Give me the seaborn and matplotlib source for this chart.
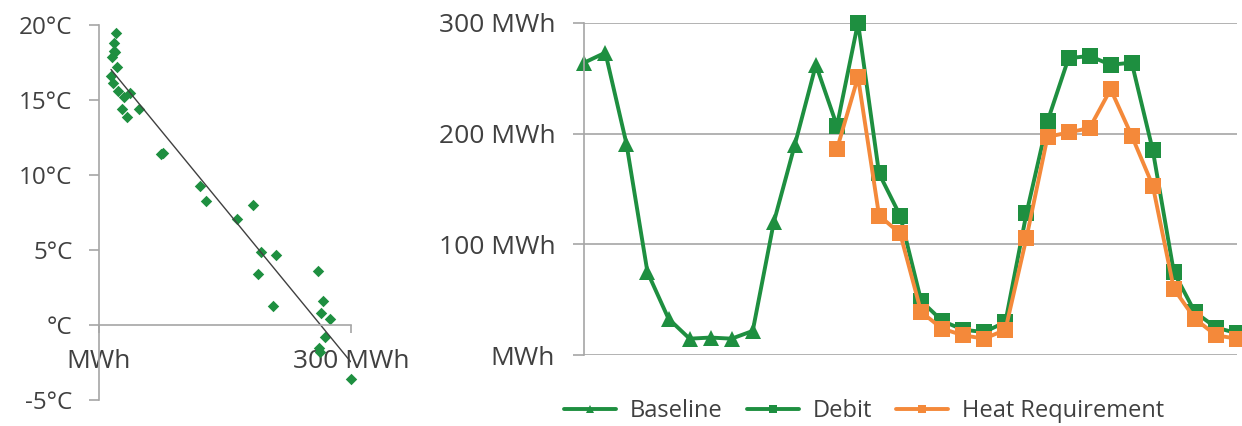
import numpy as np
import pandas as pd
import matplotlib.pyplot as plt
import seaborn as sns
from matplotlib.lines import Line2D

# scatter: daily heat demand vs outdoor temperature
demand_mwh = [20.2, 18.3, 19.0, 15.1, 17.5, 21.0, 14.3, 16.3, 22.2, 29.8, 36.9, 27.0,
              33.7, 48.0, 73.8, 76.6, 120.2, 127.0, 163.9, 183.7, 192.9, 210.7, 188.9,
              206.7, 261.0, 266.3, 264.3, 275.0, 269.0, 261.9, 263.0, 299.6]
temp_c = [19.5, 18.8, 18.2, 17.9, 18.3, 17.2, 16.6, 16.1, 15.6, 15.2, 15.5, 14.4,
          13.9, 14.4, 11.4, 11.5, 9.3, 8.3, 7.1, 8.0, 4.9, 4.7, 3.4,
          1.3, 3.6, 1.6, 0.8, 0.4, -0.8, -1.5, -1.8, -3.6]

# hourly series
baseline_hours = list(range(0, 13))
baseline_mwh = [264, 273, 191, 75, 33, 15, 16, 15, 22, 120, 190, 262, 207]
supply_hours = list(range(12, 32))
debit_mwh = [207, 300, 164, 126, 49, 31, 23, 21, 30, 128, 211, 268, 270, 262,
             264, 185, 75, 39, 25, 20]
heat_req_mwh = [186, 251, 126, 110, 39, 24, 18, 15, 23, 106, 197, 201, 205, 240,
                198, 153, 60, 33, 18, 15]

temp_ticks = [-5, 0, 5, 10, 15, 20]
temp_labels = ['-5°C', '°C', '5°C', '10°C', '15°C', '20°C']
demand_ticks = [0, 300]
demand_labels = ['MWh', '300 MWh']
mwh_ticks = [0, 100, 200, 300]
mwh_labels = ['MWh', '100 MWh', '200 MWh', '300 MWh']

green = '#1e8f40'
orange = '#f4893a'
grey = '#a6a6a6'
text_col = '#404040'

sns.set_style('white')
plt.rcParams['font.family'] = ['Open Sans', 'DejaVu Sans']

fig = plt.figure(figsize=(12.42, 4.26), dpi=100)

# left: scatter with linear trend
ax1 = fig.add_axes([99 / 1242, 1 - 400 / 426, 252 / 1242, 375 / 426])
sns.regplot(x=demand_mwh, y=temp_c, ax=ax1, ci=None, marker='D', color=green,
            scatter_kws=dict(s=34, linewidths=0, clip_on=False, alpha=1),
            line_kws=dict(color='#404040', lw=1.0))
ax1.set_xlim(0, 300)
ax1.set_ylim(-5, 20)
ax1.set_yticks(temp_ticks, temp_labels)
ax1.set_xticks(demand_ticks, demand_labels)
for s in ['top', 'right']:
    ax1.spines[s].set_visible(False)
ax1.spines['bottom'].set_position(('data', 0))
for s in ['left', 'bottom']:
    ax1.spines[s].set_color(grey)
    ax1.spines[s].set_linewidth(1.2)
ax1.tick_params(axis='y', direction='out', length=7, width=1.2, color=grey,
                labelsize=17.5, labelcolor=text_col, pad=12, left=True)
ax1.tick_params(axis='x', direction='out', length=6, width=1.2, color=grey,
                labelsize=19, labelcolor=text_col, pad=11, bottom=True)

# right: hourly lines
ax2 = fig.add_axes([584.3 / 1242, 1 - 355.3 / 426, 652.7 / 1242, 332.6 / 426])
line_kw = dict(lw=2.8, markeredgewidth=0, ax=ax2, clip_on=False)
sns.lineplot(x=baseline_hours, y=baseline_mwh, color=green, marker='^',
             markersize=11, label='Baseline', **line_kw)
sns.lineplot(x=supply_hours, y=debit_mwh, color=green, marker='s',
             markersize=11, label='Debit', **line_kw)
sns.lineplot(x=supply_hours, y=heat_req_mwh, color=orange, marker='s',
             markersize=11, label='Heat Requirement', **line_kw)
ax2.set_xlim(0, 31)
ax2.set_ylim(0, 300)
ax2.set_xticks([])
ax2.set_yticks(mwh_ticks, mwh_labels)
ax2.yaxis.grid(True, color=grey, lw=1.2)
ax2.set_axisbelow(True)
for s in ['top', 'right', 'bottom']:
    ax2.spines[s].set_visible(False)
ax2.spines['left'].set_color(grey)
ax2.spines['left'].set_linewidth(1.2)
ax2.tick_params(axis='y', direction='out', length=8, width=1.2, color=grey,
                labelsize=19, labelcolor=text_col, pad=13, left=True)
ax2.get_legend().remove()

handles = [
    Line2D([], [], color=green, lw=2.8, marker='^', markersize=6, markeredgewidth=0),
    Line2D([], [], color=green, lw=2.8, marker='s', markersize=6, markeredgewidth=0),
    Line2D([], [], color=orange, lw=2.8, marker='s', markersize=6, markeredgewidth=0),
]
fig.legend(handles, ['Baseline', 'Debit', 'Heat Requirement'], loc='center',
           bbox_to_anchor=(864 / 1242, 1 - 411 / 426), ncol=3, frameon=False,
           fontsize=17, labelcolor=text_col, handlelength=2.2, handletextpad=0.6,
           columnspacing=1.0, borderpad=0)

fig.savefig('out.png', dpi=100)
